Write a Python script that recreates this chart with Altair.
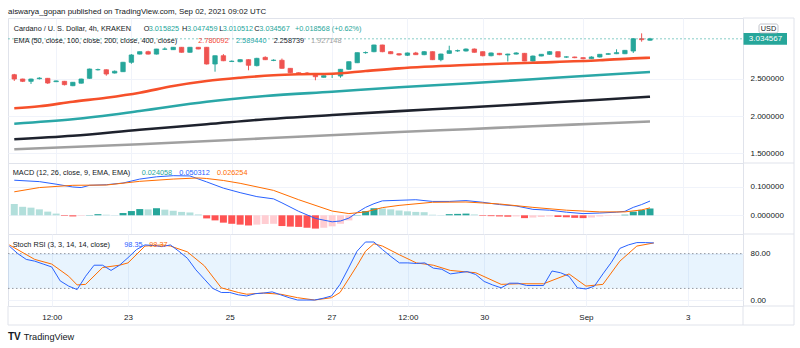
import altair as alt
import pandas as pd

# ---------------- data (4h candles, Aug 20 16:00 -> Sep 2 08:00) ----------------
candle_open = [2.554, 2.496, 2.465, 2.500, 2.505, 2.460, 2.465, 2.406, 2.440, 2.505,
               2.620, 2.620, 2.576, 2.594, 2.720, 2.830, 2.862, 2.830, 2.895, 2.889,
               2.921, 2.854, 2.921, 2.921, 2.697, 2.808, 2.730, 2.728, 2.755, 2.675,
               2.786, 2.745, 2.747, 2.639, 2.580, 2.575, 2.567, 2.519, 2.560, 2.536,
               2.626, 2.714, 2.849, 2.862, 2.952, 2.862, 2.835, 2.814, 2.845, 2.822,
               2.862, 2.755, 2.840, 2.873, 2.871, 2.898, 2.862, 2.808, 2.840, 2.818,
               2.830, 2.840, 2.737, 2.804, 2.827, 2.862, 2.790, 2.791, 2.782, 2.768,
               2.791, 2.827, 2.835, 2.835, 2.871, 3.036, 3.015825]
candle_high = [2.565, 2.500, 2.500, 2.520, 2.510, 2.475, 2.470, 2.455, 2.500, 2.635,
               2.635, 2.625, 2.610, 2.725, 2.830, 2.865, 2.875, 2.900, 2.920, 2.925,
               2.925, 2.925, 2.925, 2.925, 2.810, 2.830, 2.745, 2.760, 2.760, 2.780,
               2.800, 2.760, 2.770, 2.640, 2.585, 2.590, 2.570, 2.545, 2.575, 2.630,
               2.730, 2.850, 2.865, 2.955, 2.955, 2.870, 2.840, 2.850, 2.860, 2.870,
               2.865, 2.835, 2.942, 2.890, 2.905, 2.905, 2.865, 2.850, 2.845, 2.835,
               2.855, 2.845, 2.810, 2.830, 2.870, 2.865, 2.800, 2.795, 2.785, 2.800,
               2.830, 2.845, 2.894, 2.885, 3.040, 3.108, 3.047459]
candle_low = [2.470, 2.455, 2.430, 2.490, 2.430, 2.455, 2.410, 2.400, 2.435, 2.500,
              2.610, 2.540, 2.570, 2.590, 2.700, 2.825, 2.825, 2.825, 2.885, 2.885,
              2.850, 2.850, 2.895, 2.690, 2.594, 2.735, 2.725, 2.720, 2.613, 2.665,
              2.750, 2.735, 2.635, 2.575, 2.555, 2.550, 2.479, 2.515, 2.510, 2.513,
              2.620, 2.710, 2.835, 2.855, 2.855, 2.830, 2.810, 2.805, 2.820, 2.815,
              2.750, 2.733, 2.835, 2.860, 2.865, 2.850, 2.800, 2.800, 2.815, 2.731,
              2.825, 2.735, 2.730, 2.800, 2.820, 2.785, 2.780, 2.775, 2.760, 2.765,
              2.785, 2.820, 2.830, 2.830, 2.845, 2.996, 3.010512]
candle_close = [2.496, 2.465, 2.496, 2.508, 2.442, 2.470, 2.420, 2.452, 2.496, 2.630,
                2.622, 2.563, 2.600, 2.720, 2.818, 2.862, 2.830, 2.898, 2.898, 2.921,
                2.854, 2.921, 2.898, 2.697, 2.808, 2.741, 2.735, 2.755, 2.680, 2.773,
                2.755, 2.748, 2.639, 2.580, 2.559, 2.572, 2.527, 2.540, 2.563, 2.626,
                2.728, 2.849, 2.851, 2.952, 2.862, 2.835, 2.818, 2.845, 2.822, 2.862,
                2.755, 2.831, 2.875, 2.876, 2.898, 2.854, 2.808, 2.845, 2.822, 2.830,
                2.845, 2.737, 2.804, 2.827, 2.862, 2.791, 2.792, 2.782, 2.768, 2.791,
                2.827, 2.835, 2.849, 2.880, 3.036, 3.023, 3.034567]

ema50_idx = [0, 3, 7, 11, 15, 19, 23, 27, 31, 34, 38, 42, 46, 54, 62, 70, 74, 76]
ema50_val = [2.103, 2.130, 2.192, 2.245, 2.312, 2.402, 2.469, 2.513, 2.546, 2.559,
             2.567, 2.603, 2.639, 2.684, 2.714, 2.747, 2.773, 2.780092]
ema100_idx = [0, 7, 15, 23, 30, 38, 46, 54, 62, 70, 76]
ema100_val = [1.897, 1.956, 2.067, 2.192, 2.268, 2.326, 2.385, 2.436, 2.493, 2.550, 2.589440]
ema200_idx = [0, 7, 15, 23, 30, 38, 46, 54, 62, 70, 76]
ema200_val = [1.688, 1.736, 1.816, 1.889, 1.956, 2.013, 2.065, 2.114, 2.166, 2.218, 2.258739]
ema400_idx = [0, 15, 30, 46, 54, 62, 70, 76]
ema400_val = [1.554, 1.621, 1.701, 1.785, 1.823, 1.862, 1.899, 1.927148]

macd_hist = [0.040, 0.030, 0.027, 0.021, 0.013, 0.006, -0.002, -0.004, -0.002, 0.001,
             0.004, 0.002, 0.001, 0.008, 0.015, 0.022, 0.021, 0.025, 0.020, 0.016,
             0.012, 0.010, 0.003, -0.011, -0.018, -0.026, -0.030, -0.033, -0.036, -0.033,
             -0.031, -0.030, -0.038, -0.040, -0.041, -0.044, -0.047, -0.044, -0.039, -0.030,
             -0.018, 0.001, 0.015, 0.025, 0.024, 0.021, 0.017, 0.014, 0.012, 0.011,
             0.002, 0.001, 0.004, 0.005, 0.006, 0.003, -0.002, -0.003, -0.004, -0.005,
             -0.004, -0.010, -0.008, -0.006, -0.004, -0.006, -0.007, -0.009, -0.010, -0.008,
             -0.004, -0.002, -0.001, 0.002, 0.013, 0.019, 0.024058]
macd_idx = [0, 3, 5, 7, 8, 9, 11, 13, 15, 17, 19, 21, 23, 25, 27, 29, 31, 32, 34, 36,
            38, 39, 40, 41, 42, 43, 44, 46, 48, 50, 52, 54, 56, 58, 60, 62, 64, 66, 68, 70,
            72, 73, 74, 75, 76]
macd_val = [0.124, 0.119, 0.110, 0.100, 0.098, 0.106, 0.108, 0.114, 0.128, 0.136,
            0.140, 0.139, 0.118, 0.096, 0.080, 0.066, 0.058, 0.044, 0.014, -0.011,
            -0.023, -0.020, -0.010, 0.010, 0.028, 0.041, 0.051, 0.053, 0.055, 0.049,
            0.049, 0.052, 0.046, 0.038, 0.033, 0.021, 0.018, 0.011, 0.006, 0.008,
            0.011, 0.014, 0.028, 0.038, 0.050312]
signal_idx = [0, 3, 7, 11, 15, 19, 22, 23, 25, 27, 31, 34, 38, 40, 42, 44, 46, 50, 54,
              58, 62, 66, 70, 73, 75, 76]
signal_val = [0.083, 0.098, 0.106, 0.107, 0.120, 0.128, 0.132, 0.130, 0.123, 0.113,
              0.088, 0.055, 0.015, 0.006, 0.012, 0.027, 0.035, 0.046, 0.047, 0.040,
              0.028, 0.018, 0.012, 0.012, 0.019, 0.026254]

stoch_k = [93, 80, 70, 67, 62, 57, 33, 24, 18, 41, 60, 60, 51, 60, 73, 87, 95, 94, 92, 95,
           84, 72, 52, 36, 20, 13, 13, 9, 7, 11, 12, 14, 9, 4, 0, 0, 0, 3, 7, 27,
           55, 84, 100, 100, 87, 75, 64, 64, 63, 64, 55, 53, 45, 47, 49, 44, 32, 26, 21, 29,
           29, 25, 25, 25, 50, 47, 41, 21, 19, 24, 45, 65, 89, 95, 99, 99, 98.35]
stoch_d_idx = [0, 3, 5, 7, 8, 9, 11, 13, 14, 16, 18, 19, 21, 23, 25, 27, 28, 30, 32, 34,
               36, 38, 39, 41, 42, 43, 44, 46, 48, 50, 52, 55, 58, 60, 63, 66, 68, 70, 72, 74, 76]
stoch_d_val = [95, 70, 62, 41, 26, 27, 56, 60, 64, 93, 95, 93, 83, 59, 21, 13, 10, 12, 10, 4,
               0, 4, 13, 59, 84, 97, 93, 78, 64, 60, 51, 47, 27, 28, 28, 45, 24, 27, 67, 93, 98.37]

time_tick_idx = [5, 14, 26, 38, 47, 56, 68, 80]
time_tick_labels = ["12:00", "23", "25", "27", "12:00", "30", "Sep", "3"]
price_ticks = [1.5, 2.0, 2.5]
macd_ticks = [0.0, 0.1]
stoch_ticks = [0, 40, 80]

# ---------------- style ----------------
FONT = "Liberation Sans"
DARK = "#131722"
UP = "#26a69a"
DOWN = "#ef5350"
GRID = "#f0f3fa"
FRAME = "#e0e3eb"
BLUE = "#2962ff"
ORANGE = "#ff6d00"
C50 = "#f6502a"
C100 = "#2aa7a7"
C200 = "#1e222d"
C400 = "#a0a0a0"
W = 735
H_MAIN, H_MACD, H_STOCH = 145, 71, 72
LEG = 7.3

XS = alt.Scale(domain=[-0.153, 86.52], nice=False, zero=False)
YS_MAIN = alt.Scale(domain=[1.370, 3.3137], nice=False, zero=False)
YS_MACD = alt.Scale(domain=[-0.0661, 0.1848], nice=False, zero=False)
YS_STOCH = alt.Scale(domain=[-10.3, 113.8], nice=False, zero=False)

AX_GRID = alt.Axis(values=time_tick_idx, grid=True, labels=False, ticks=False,
                   domain=False, title=None)
label_expr = " : ".join(f"datum.value == {v} ? '{l}'" for v, l in
                        zip(time_tick_idx, time_tick_labels)) + " : ''"
AX_TIME = alt.Axis(values=time_tick_idx, grid=True, labels=True, ticks=False, tickSize=0,
                   domain=False, title=None, labelExpr=label_expr, labelPadding=7,
                   labelFlush=False, labelOverlap=False)


def yaxis(vals, fmt):
    return alt.Axis(orient="right", values=vals, format=fmt, grid=True, ticks=False,
                    tickSize=0, domain=False, title=None, labelPadding=7,
                    labelFlush=False, labelOverlap=False)


AX_MAIN = yaxis(price_ticks, ".6f")
AX_MACD = yaxis(macd_ticks, ".6f")
AX_STOCH = yaxis(stoch_ticks, ".2f")

ONE = pd.DataFrame({"k": [0]})


def text(s, x, y, color=DARK, size=LEG, weight="normal", align="left"):
    return alt.Chart(ONE).mark_text(align=align, baseline="middle", font=FONT,
                                    fontSize=size, color=color,
                                    fontWeight=weight).encode(
        x=alt.value(x), y=alt.value(y), text=alt.value(s))


def hline(x1, x2, y, color=FRAME):
    return alt.Chart(ONE).mark_rule(color=color, strokeWidth=1).encode(
        x=alt.value(x1), x2=alt.value(x2), y=alt.value(y))


def vline(x, y1, y2, color=FRAME):
    return alt.Chart(ONE).mark_rule(color=color, strokeWidth=1).encode(
        x=alt.value(x), y=alt.value(y1), y2=alt.value(y2))


def series_line(idx, vals, color, width, ys, ax, interp="linear"):
    df = pd.DataFrame({"i": idx, "v": vals})
    return alt.Chart(df).mark_line(color=color, strokeWidth=width,
                                   interpolate=interp).encode(
        x=alt.X("i:Q", scale=XS, axis=AX_GRID if ys is not YS_STOCH else AX_TIME),
        y=alt.Y("v:Q", scale=ys, axis=ax))


# ---------------- main pane ----------------
n = len(candle_open)
dfc = pd.DataFrame({"i": list(range(n)), "open": candle_open, "high": candle_high,
                    "low": candle_low, "close": candle_close})
dfc["dir"] = ["up" if c >= o else "down" for o, c in zip(candle_open, candle_close)]
dir_scale = alt.Scale(domain=["up", "down"], range=[UP, DOWN])

wicks = alt.Chart(dfc).mark_rule(strokeWidth=1).encode(
    x=alt.X("i:Q", scale=XS, axis=AX_GRID),
    y=alt.Y("low:Q", scale=YS_MAIN, axis=AX_MAIN),
    y2="high:Q",
    color=alt.Color("dir:N", scale=dir_scale, legend=None))
bodies = alt.Chart(dfc).mark_bar(size=4.4, strokeWidth=0.8).encode(
    x=alt.X("i:Q", scale=XS, axis=AX_GRID),
    y=alt.Y("open:Q", scale=YS_MAIN, axis=AX_MAIN),
    y2="close:Q",
    color=alt.Color("dir:N", scale=dir_scale, legend=None),
    stroke=alt.Stroke("dir:N", scale=dir_scale, legend=None))

last_close = candle_close[-1]
price_line = alt.Chart(ONE).mark_rule(color=UP, strokeDash=[2, 2], opacity=0.55).encode(
    x=alt.value(0), x2=alt.value(W), y=alt.Y(datum=last_close))
price_box = alt.Chart(ONE).mark_rect(color=UP).encode(
    x=alt.value(735.5), x2=alt.value(779),
    y=alt.Y(datum=last_close + 0.078), y2=alt.Y2(datum=last_close - 0.078))
price_txt = alt.Chart(ONE).mark_text(font=FONT, fontSize=8, color="white",
                                     align="center", baseline="middle").encode(
    x=alt.value(757.5), y=alt.Y(datum=last_close), text=alt.value(f"{last_close:.6f}"))
usd_box = alt.Chart(ONE).mark_rect(fill="white", stroke="#b2b5be", strokeWidth=0.8,
                                   cornerRadius=2).encode(
    x=alt.value(751), x2=alt.value(770), y=alt.value(6), y2=alt.value(15))

anchor = alt.Chart(ONE).mark_rect(fill="white").encode(
    x=alt.value(-7), x2=alt.value(-6), y=alt.value(-17), y2=alt.value(-16))

main_layers = [
    anchor,
    text("aiswarya_gopan published on TradingView.com, Sep 02, 2021 09:02 UTC", 0, -6.5,
         size=7.9),
    wicks, bodies,
    series_line(ema400_idx, ema400_val, C400, 2.6, YS_MAIN, AX_MAIN, "monotone"),
    series_line(ema200_idx, ema200_val, C200, 2.6, YS_MAIN, AX_MAIN, "monotone"),
    series_line(ema100_idx, ema100_val, C100, 2.6, YS_MAIN, AX_MAIN, "monotone"),
    series_line(ema50_idx, ema50_val, C50, 2.6, YS_MAIN, AX_MAIN, "monotone"),
    price_line,
    text("Cardano / U. S. Dollar, 4h, KRAKEN", 5.7, 11.3),
    text("O", 135.7, 11.3), text("3.015825", 140.7, 11.3, UP),
    text("H", 174, 11.3), text("3.047459", 179, 11.3, UP),
    text("L", 211.3, 11.3), text("3.010512", 214.7, 11.3, UP),
    text("C", 246.3, 11.3), text("3.034567", 251.3, 11.3, UP),
    text("+0.018568 (+0.62%)", 287, 11.3, UP),
    text("EMA (50, close, 100, close, 200, close, 400, close)", 5.7, 23),
    text("2.780092", 190.3, 23, "#f44336"), text("2.589440", 228, 23, C100),
    text("2.258739", 265.7, 23, C200), text("1.927148", 303, 23, "#9e9e9e"),
    hline(W, 786, 0), vline(786, 0, H_MAIN), hline(W, 786, H_MAIN),
    price_box, price_txt, usd_box,
    text("USD", 760.5, 10.6, size=7.3, align="center"),
]
main = alt.layer(*main_layers).properties(width=W, height=H_MAIN)

# ---------------- MACD pane ----------------
cats = []
for k, h in enumerate(macd_hist):
    prev = macd_hist[k - 1] if k > 0 else h + 0.005
    if h >= 0:
        cats.append("pos_up" if h > prev else "pos_down")
    else:
        cats.append("neg_down" if h < prev else "neg_up")
dfh = pd.DataFrame({"i": list(range(len(macd_hist))), "h": macd_hist, "c": cats})
hist = alt.Chart(dfh).mark_bar(size=7).encode(
    x=alt.X("i:Q", scale=XS, axis=AX_GRID),
    y=alt.Y("h:Q", scale=YS_MACD, axis=AX_MACD),
    y2=alt.Y2(datum=0),
    color=alt.Color("c:N", legend=None, scale=alt.Scale(
        domain=["pos_up", "pos_down", "neg_down", "neg_up"],
        range=["#26a69a", "#b2dfdb", "#ff5252", "#ffcdd2"])))

macd_layers = [
    hist,
    series_line(macd_idx, macd_val, BLUE, 1, YS_MACD, AX_MACD),
    series_line(signal_idx, signal_val, ORANGE, 1, YS_MACD, AX_MACD),
    text("MACD (12, 26, close, 9, EMA, EMA)", 4.7, 10.3),
    text("0.024058", 133.7, 10.3, UP), text("0.050312", 171.3, 10.3, BLUE),
    text("0.026254", 209, 10.3, ORANGE),
    vline(786, 0, H_MACD), hline(W, 786, H_MACD),
]
macd = alt.layer(*macd_layers).properties(width=W, height=H_MACD)

# ---------------- Stoch RSI pane ----------------
band = alt.Chart(ONE).mark_rect(color="#2196f3", opacity=0.1).encode(
    x=alt.value(0), x2=alt.value(W), y=alt.Y(datum=80, scale=YS_STOCH),
    y2=alt.Y2(datum=20))
dot80 = alt.Chart(ONE).mark_rule(color="#9598a1", strokeDash=[1.5, 2.5]).encode(
    x=alt.value(0), x2=alt.value(W), y=alt.Y(datum=80))
dot20 = alt.Chart(ONE).mark_rule(color="#9598a1", strokeDash=[1.5, 2.5]).encode(
    x=alt.value(0), x2=alt.value(W), y=alt.Y(datum=20))

stoch_layers = [
    band, dot80, dot20,
    series_line(stoch_d_idx, stoch_d_val, ORANGE, 1, YS_STOCH, AX_STOCH),
    series_line(list(range(len(stoch_k))), stoch_k, BLUE, 1, YS_STOCH, AX_STOCH),
    text("Stoch RSI (3, 3, 14, 14, close)", 4.7, 11),
    text("98.35", 116.3, 11, BLUE), text("98.37", 141.3, 11, ORANGE),
    vline(0, H_STOCH, 91), vline(W, H_STOCH, 91), vline(786, 0, 91),
    hline(W, 786, H_STOCH), hline(0, 786, 91),
    text("TV", 0, 103, size=10, weight="bold"),
    text("TradingView", 15.7, 103, size=9.2),
]
stoch = alt.layer(*stoch_layers).properties(width=W, height=H_STOCH)

chart = alt.vconcat(main, macd, stoch, spacing=0, bounds="flush").resolve_scale(
    color="independent", stroke="independent"
).properties(
    padding=0, background="white"
).configure_view(stroke=FRAME, strokeWidth=1).configure_axis(
    labelFont=FONT, labelFontSize=8, labelColor=DARK, gridColor=GRID, gridWidth=1
)

chart.save("out.html", embed_options={"renderer": "svg", "actions": False})
